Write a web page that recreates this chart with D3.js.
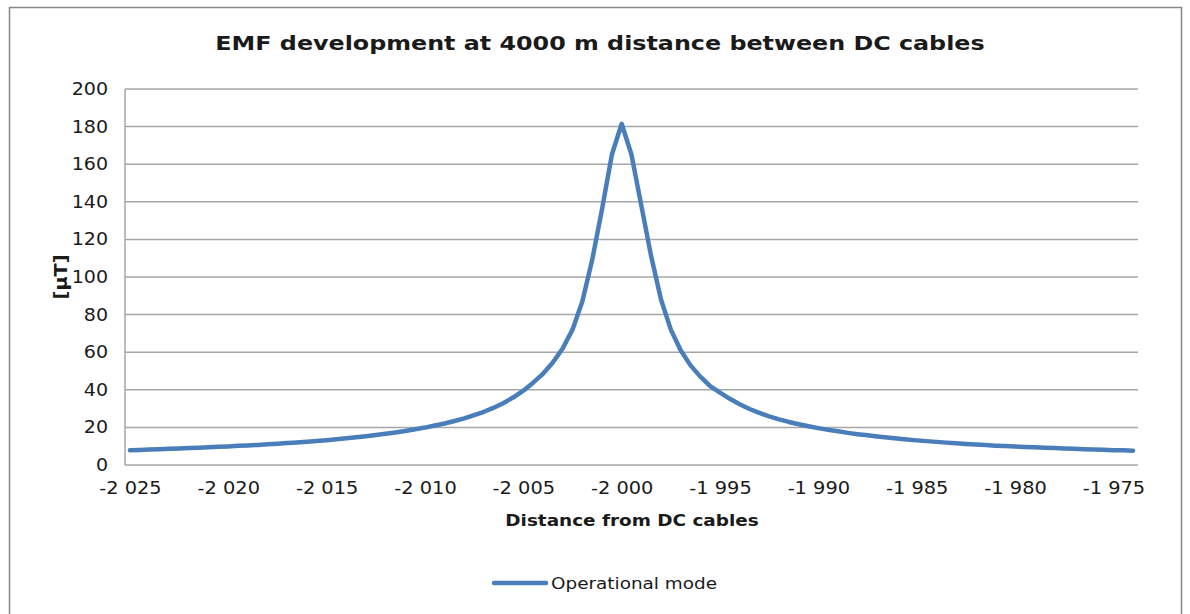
<!DOCTYPE html>
<html>
<head>
<meta charset="utf-8">
<script src="https://cdn.jsdelivr.net/npm/d3@7"></script>
<style>
  body { margin: 0; background: #fff; }
  text { font-family: "DejaVu Sans", Verdana, sans-serif; fill: #1a1a1a; }
  .grid line { stroke: #a6a6a6; stroke-width: 1.5; }
  .axis path, .axis line { stroke: #a6a6a6; stroke-width: 1.5; }
</style>
</head>
<body>
<script>
(function(){

    // distance from DC cables [m], one point every 0.5 m
    var distances = d3.range(-2025, -1973.75, 0.5);

    // EMF [µT], left side (-2025 .. -2000.5)
    var emfLeft = [7.8, 8.0, 8.2, 8.4, 8.6, 8.8, 9.0, 9.2, 9.4, 9.7,
                   9.9, 10.2, 10.4, 10.7, 11.0, 11.3, 11.7, 12.0, 12.4, 12.8,
                   13.2, 13.7, 14.2, 14.7, 15.3, 15.9, 16.6, 17.3, 18.1, 19.0,
                   19.9, 21.0, 22.1, 23.4, 24.8, 26.5, 28.3, 30.5, 33.0, 36.0,
                   39.5, 43.8, 48.5, 54.5, 62, 72, 87, 109, 136, 165];
    var emfPeak = [181.5];
    // right side (-1999.5 .. -1974)
    var emfRight = [165, 138, 111, 88, 72, 61, 53, 47, 42, 38.5,
                    35.2, 32.3, 29.8, 27.7, 25.9, 24.3, 22.9, 21.7, 20.6, 19.6,
                    18.7, 17.9, 17.1, 16.4, 15.8, 15.2, 14.6, 14.1, 13.6, 13.1,
                    12.7, 12.3, 11.9, 11.6, 11.2, 10.9, 10.6, 10.3, 10.1, 9.8,
                    9.6, 9.4, 9.2, 9.0, 8.8, 8.6, 8.4, 8.2, 8.1, 7.9,
                    7.8, 7.6];
    var emf = emfLeft.concat(emfPeak, emfRight);

    var yTicks = [0, 20, 40, 60, 80, 100, 120, 140, 160, 180, 200];
    var xLabels = [-2025, -2020, -2015, -2010, -2005, -2000, -1995, -1990, -1985, -1980, -1975];

    var seriesName = "Operational mode";
    var title = "EMF development at 4000 m distance between DC cables";

    var width = 1190, height = 614;
    var margin = {top: 89, right: 52, bottom: 149, left: 125};
    var innerW = width - margin.left - margin.right,
        innerH = height - margin.top - margin.bottom;

    // the original font is wider than DejaVu, so stretch texts a bit
    function widen(sel, k){
        sel.each(function(){
            var w = this.getComputedTextLength();
            d3.select(this)
                .attr("textLength", w * k)
                .attr("lengthAdjust", "spacingAndGlyphs");
        });
    }

    var svg = d3.select("body").append("svg")
        .attr("width", width)
        .attr("height", height);

    // outer chart frame
    svg.append("rect")
        .attr("x", 9.5).attr("y", 7.5)
        .attr("width", 1172).attr("height", 620)
        .attr("fill", "none")
        .attr("stroke", "#868686")
        .attr("stroke-width", 1.5);

    var g = svg.append("g")
        .attr("transform", "translate(" + margin.left + "," + margin.top + ")");

    var x = d3.scalePoint()
        .domain(distances)
        .range([0, innerW])
        .padding(0.5);

    var y = d3.scaleLinear()
        .domain([0, 200])
        .range([innerH, 0]);

    // gridlines
    g.append("g")
        .attr("class", "grid")
        .selectAll("line")
        .data(yTicks.slice(1))
        .enter()
        .append("line")
        .attr("x1", 0).attr("x2", innerW)
        .attr("y1", function(d){ return y(d); })
        .attr("y2", function(d){ return y(d); });

    var fmt = function(d){
        var s = d3.format("d")(Math.abs(d));
        if (s.length > 3) s = s.slice(0, s.length - 3) + " " + s.slice(-3);
        return (d < 0 ? "-" : "") + s;
    };

    var yAxis = g.append("g")
        .attr("class", "axis")
        .call(d3.axisLeft(y).tickValues(yTicks).tickSize(0).tickPadding(17));
    yAxis.selectAll("text").style("font-size", "17px");
    widen(yAxis.selectAll("text"), 1.12);

    var xAxis = g.append("g")
        .attr("class", "axis")
        .attr("transform", "translate(0," + innerH + ")")
        .call(d3.axisBottom(x).tickValues(xLabels).tickSize(0).tickPadding(17).tickFormat(fmt));
    xAxis.selectAll("text").style("font-size", "17px");
    widen(xAxis.selectAll("text"), 1.14);
    xAxis.select(".domain").attr("d", "M0,0H" + innerW);
    yAxis.select(".domain").attr("d", "M0,0V" + innerH);

    var line = d3.line()
        .x(function(d, i){ return x(distances[i]); })
        .y(function(d){ return y(d); });

    g.append("path")
        .datum(emf)
        .attr("fill", "none")
        .attr("stroke", "#4a7ebb")
        .attr("stroke-width", 4.5)
        .attr("stroke-linejoin", "round")
        .attr("stroke-linecap", "round")
        .attr("d", line);

    // title
    svg.append("text")
        .attr("x", 600).attr("y", 50)
        .attr("text-anchor", "middle")
        .style("font-size", "20px")
        .style("font-weight", "bold")
        .text(title)
        .call(widen, 1.19);

    // axis titles
    svg.append("text")
        .attr("transform", "translate(67," + (margin.top + innerH / 2) + ") rotate(-90)")
        .attr("text-anchor", "middle")
        .style("font-size", "17px")
        .style("font-weight", "bold")
        .text("[µT]")
        .call(widen, 1.13);

    svg.append("text")
        .attr("x", 632).attr("y", 526)
        .attr("text-anchor", "middle")
        .style("font-size", "16px")
        .style("font-weight", "bold")
        .text("Distance from DC cables")
        .call(widen, 1.15);

    // legend
    svg.append("line")
        .attr("x1", 494).attr("x2", 546)
        .attr("y1", 583).attr("y2", 583)
        .attr("stroke", "#4a7ebb")
        .attr("stroke-width", 4.5)
        .attr("stroke-linecap", "round");

    svg.append("text")
        .attr("x", 551).attr("y", 589)
        .style("font-size", "16px")
        .text(seriesName)
        .call(widen, 1.15);

})();
</script>
</body>
</html>
